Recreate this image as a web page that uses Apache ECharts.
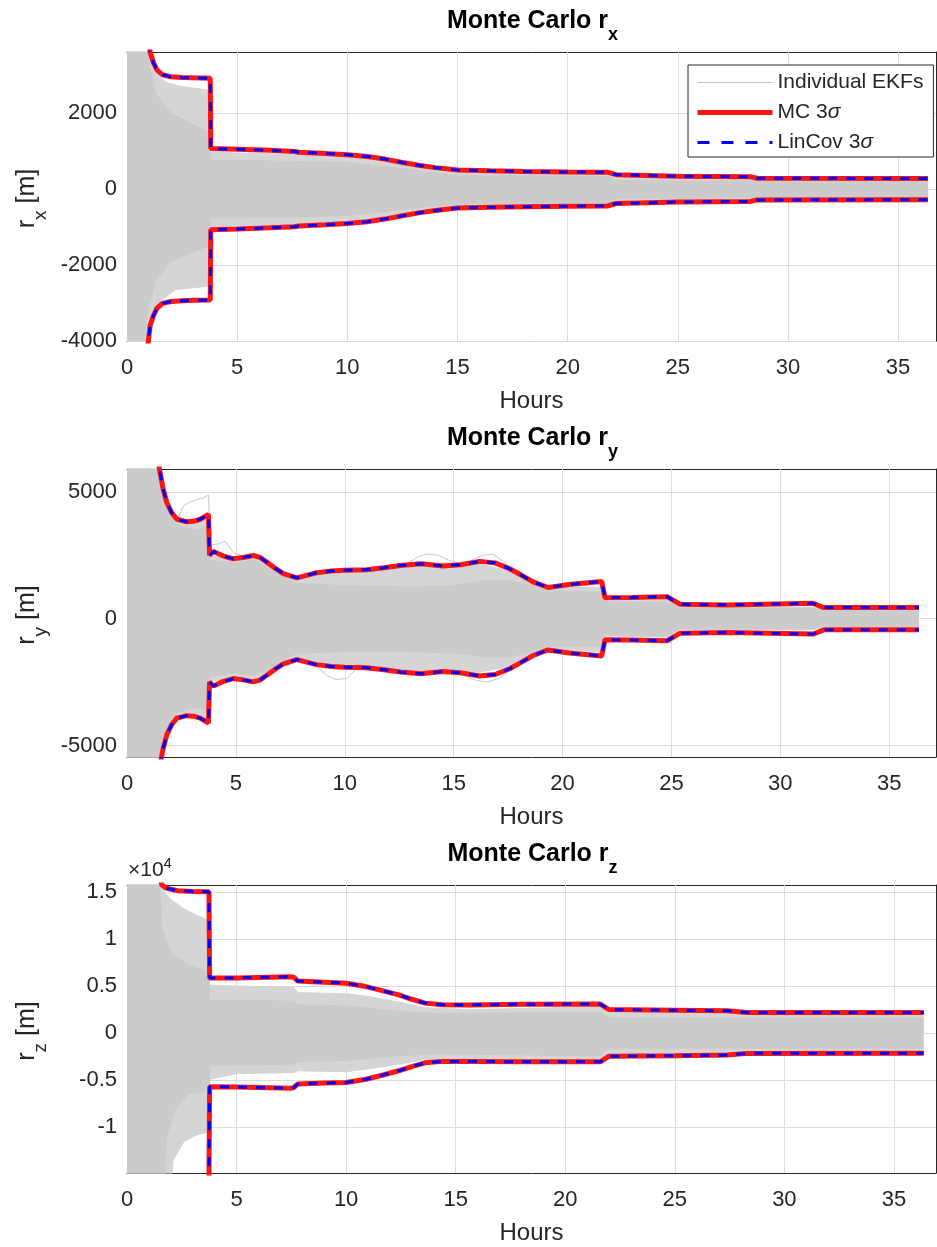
<!DOCTYPE html>
<html><head><meta charset="utf-8">
<script src="https://cdn.jsdelivr.net/npm/echarts@6/dist/echarts.min.js"></script>
<style>html,body{margin:0;padding:0;background:#fff}#c{width:937px;height:1247px}</style>
</head><body><div id="c"></div>
<script>
// ---------------- data (hours, metres) ----------------
const xTicks = [0, 5, 10, 15, 20, 25, 30, 35];
const yTicksX = [-4000, -2000, 0, 2000];
const yTicksY = [-5000, 0, 5000];
const yTicksZ = [-10000, -5000, 0, 5000, 10000, 15000];

// 3-sigma envelopes (MC and LinCov coincide); lower bound is the negative unless given
const sigmaX = [[0.80,4800],[0.95,4100],[1.05,3600],[1.2,3330],[1.36,3140],[1.6,3010],[2.0,2960],[2.5,2940],[3.0,2930],[3.78,2920],[3.8,1070],[5.0,1050],[6.5,1020],[7.6,990],[7.8,970],[9.0,940],[10.0,905],[10.9,860],[11.7,790],[12.5,700],[13.3,620],[14.0,565],[15.0,500],[16.5,480],[18,465],[20,450],[21.8,445],[22.2,380],[25,340],[28.3,325],[28.6,285],[36.36,280]];
const sigmaY = [[1.35,6500],[1.49,5900],[1.65,5150],[1.83,4570],[2.05,4180],[2.29,3920],[2.74,3820],[3.05,3840],[3.36,3920],[3.74,4110],[3.79,2500],[3.97,2650],[4.4,2480],[4.88,2360],[5.4,2420],[5.8,2490],[6.1,2420],[6.42,2230],[6.8,1990],[7.18,1780],[7.8,1610],[8.2,1700],[8.7,1810],[9.4,1880],[10,1910],[11,1930],[11.8,2010],[12.55,2100],[13.5,2170],[14.5,2080],[15.3,2130],[16.2,2260],[16.9,2200],[17.57,1970],[18.1,1720],[18.65,1450],[19.34,1230],[20.3,1350],[21.8,1470],[21.95,830],[23.2,840],[24.8,870],[25.4,570],[27.6,545],[31.5,605],[32,440],[36.37,440]];
const sigmaZ = [[1.45,17000],[1.59,15740],[1.8,15400],[2.3,15140],[3.0,15060],[3.74,15030],[3.77,5850],[5,5870],[7.45,6000],[7.6,5950],[7.8,5530],[9,5420],[10,5310],[10.9,4950],[11.6,4550],[12.4,4070],[13.0,3600],[13.6,3190],[14.4,3010],[15.6,3000],[18,3080],[21.6,3090],[22.0,2500],[25,2430],[27.4,2370],[28.3,2190],[36.36,2180]];
const sigmaZLo = [[1.3,-17500],[2.0,-16000],[3.0,-15600],[3.74,-15500],[3.77,-5700],[5,-5720],[7.45,-5850],[7.6,-5800],[7.8,-5400],[9,-5300],[10,-5250],[10.9,-4900],[11.6,-4500],[12.4,-4000],[13.0,-3550],[13.6,-3150],[14.4,-3000],[15.6,-3000],[18,-3050],[21.6,-3050],[22.0,-2450],[25,-2400],[27.4,-2330],[28.3,-2150],[36.36,-2130]];

// extent of the individual EKF error traces (sparse outer spread, dense core)
const greyOuterXUp = [[0,5000],[0.95,5000],[1.1,3400],[1.4,3000],[1.8,2800],[2.5,2700],[3.75,2600],[3.8,980],[5,950],[7.6,920],[9,960],[10,900],[11,820],[12.5,660],[14,540],[15,470],[18,440],[21.9,430],[22.2,300],[28.5,270],[36.36,250]];
const greyOuterXLo = [[0,-5000],[0.7,-5000],[0.9,-4000],[1.1,-3500],[1.5,-2950],[2.2,-2650],[3.75,-2550],[3.8,-1000],[5,-960],[7.6,-930],[9,-900],[10,-880],[11,-820],[12.5,-660],[14,-540],[15,-470],[18,-440],[21.9,-430],[22.2,-300],[28.5,-270],[36.36,-260]];
const greyCoreXUp = [[0,5000],[0.85,5000],[1.0,3300],[1.3,2500],[2.0,2000],[3.0,1700],[3.75,1500],[3.8,760],[7.6,730],[10,700],[12.5,540],[15,360],[21.9,330],[22.2,220],[36.36,200]];
const greyCoreXLo = [[0,-5000],[0.7,-5000],[0.9,-3300],[1.3,-2400],[2.0,-1900],[3.0,-1650],[3.75,-1500],[3.8,-760],[7.6,-740],[10,-700],[12.5,-540],[15,-380],[21.9,-360],[22.2,-240],[36.36,-230]];

const greyOuterYUp = [[0,7000],[1.45,7000],[1.6,5300],[1.85,4500],[2.3,3950],[2.7,3850],[3.3,3900],[3.74,4050],[3.79,2450],[4.4,2430],[5,2330],[5.8,2450],[6.4,2200],[7.2,1750],[7.8,1580],[8.7,1700],[10,1800],[12.5,2000],[13.5,2100],[14.5,2000],[16.2,2150],[17.5,1900],[18.65,1400],[19.3,1200],[21.8,1250],[22,700],[24.8,720],[25.4,450],[31.5,450],[32,340],[36.37,330]];
const greyOuterYLo = [[0,-7000],[1.5,-7000],[1.65,-5100],[1.85,-4500],[2.3,-3950],[2.7,-3850],[3.3,-3900],[3.74,-4000],[3.79,-2450],[4.4,-2400],[5,-2300],[5.8,-2400],[6.4,-2200],[7.2,-1750],[7.8,-1550],[8.7,-1700],[10,-1850],[12.5,-2000],[13.5,-2100],[14.5,-2050],[16.2,-2100],[17.5,-1900],[18.65,-1400],[19.3,-1200],[21.8,-1300],[22,-680],[24.8,-720],[25.4,-420],[31.5,-430],[32,-320],[36.37,-310]];
const greyCoreYUp = [[0,7000],[1.45,7000],[1.6,5000],[1.85,4300],[2.3,3700],[3.0,3500],[3.74,3600],[3.79,2300],[5,2200],[5.8,2300],[6.4,2050],[7.2,1650],[7.8,1400],[10,1300],[13,1250],[15,1300],[16.5,1500],[17.5,1500],[18.65,1300],[19.3,1100],[21.8,1050],[22,650],[24.8,660],[25.4,420],[31.5,420],[32,320],[36.37,310]];
const greyCoreYLo = [[0,-7000],[1.5,-7000],[1.65,-4800],[1.85,-4300],[2.3,-3700],[3.0,-3500],[3.74,-3600],[3.79,-2300],[5,-2150],[5.8,-2250],[6.4,-2050],[7.2,-1650],[7.8,-1350],[10,-1300],[13,-1300],[15,-1350],[16.5,-1500],[17.5,-1500],[18.65,-1300],[19.3,-1100],[21.8,-1100],[22,-640],[24.8,-680],[25.4,-400],[31.5,-400],[32,-300],[36.37,-300]];
// a few individual traces that stray outside the band in r_y
const strayY1 = [[2.3,3900],[2.6,4450],[2.9,4600],[3.2,4700],[3.5,4750],[3.75,4880],[3.8,2900],[4.2,2950],[4.5,3050],[4.9,2600],[5.4,2450]];
const strayY2 = [[12.8,2150],[13.4,2450],[13.8,2550],[14.3,2500],[14.8,2300],[15.3,2150]];
const strayY3 = [[8.6,-1800],[9.2,-2250],[9.6,-2400],[10.1,-2350],[10.5,-2000]];
const strayY4 = [[15.3,-2150],[15.9,-2400],[16.5,-2500],[17.1,-2350],[17.6,-2000]];
const strayY5 = [[15.8,2300],[16.3,2500],[16.8,2550],[17.3,2250],[17.8,1900]];

const greyOuterZUp = [[0,20000],[1.5,20000],[1.7,15000],[2.0,14200],[2.6,13200],[3.2,12500],[3.74,12000],[3.77,5100],[5,5000],[7.6,4900],[7.8,4300],[10,4200],[11,3900],[12.4,3300],[13.6,2700],[15.6,2500],[21.6,2800],[22.0,2200],[28.3,2300],[36.36,2300]];
const greyOuterZLo = [[0,-20000],[1.9,-20000],[2.1,-13500],[2.6,-11500],[3.2,-10800],[3.74,-10500],[3.77,-4900],[5,-4300],[7.6,-4200],[7.8,-4000],[10,-4100],[11,-3800],[12.4,-3300],[13.6,-2800],[15.6,-2700],[21.6,-2850],[22.0,-2300],[28.3,-2200],[36.36,-2150]];
const greyCoreZUp = [[0,20000],[1.4,20000],[1.6,11000],[2.0,8500],[2.8,7200],[3.74,6500],[3.77,3500],[7.6,3400],[7.8,3000],[10,2900],[12.4,2300],[14,2100],[21.6,2200],[22.0,1600],[36.36,1600]];
const greyCoreZLo = [[0,-20000],[1.6,-20000],[1.8,-11000],[2.2,-8000],[2.8,-6500],[3.74,-6000],[3.77,-3400],[7.6,-3300],[7.8,-3000],[10,-2900],[12.4,-2400],[14,-2200],[21.6,-2400],[22.0,-1600],[36.36,-1600]];

// ---------------- chart ----------------
const FONT = "'Liberation Sans', Arial, Helvetica, sans-serif";
const TXT = '#262626';
const NAME_EKF = 'Individual EKFs', NAME_MC = 'MC 3σ', NAME_LC = 'LinCov 3σ';

const plots = [
  {grid:{left:127, top:52, width:809, height:289}, xMax:36.72, yMin:-4000, yMax:3610, yTicks:yTicksX,
   fmt:v=>String(v), sigma:sigmaX, sigmaLo:null, oU:greyOuterXUp, oL:greyOuterXLo, cU:greyCoreXUp, cL:greyCoreXLo, stray:[], sub:'x'},
  {grid:{left:127, top:469, width:809, height:288}, xMax:37.15, yMin:-5450, yMax:5900, yTicks:yTicksY,
   fmt:v=>String(v), sigma:sigmaY, sigmaLo:null, oU:greyOuterYUp, oL:greyOuterYLo, cU:greyCoreYUp, cL:greyCoreYLo, stray:[strayY1,strayY2,strayY3,strayY4,strayY5], sub:'y'},
  {grid:{left:127, top:885, width:809, height:288}, xMax:36.92, yMin:-14860, yMax:15740, yTicks:yTicksZ,
   fmt:v=>String(v/1e4), sigma:sigmaZ, sigmaLo:sigmaZLo, oU:greyOuterZUp, oL:greyOuterZLo, cU:greyCoreZUp, cL:greyCoreZLo, stray:[], sub:'z'}
];

const grid = [], xAxis = [], yAxis = [], series = [], graphic = [];
const axisLine = {show:true, onZero:false, lineStyle:{color:TXT, width:1}};
plots.forEach((p, i) => {
  grid.push(Object.assign({containLabel:false}, p.grid));
  xAxis[i] = {type:'value', gridIndex:i, min:0, max:p.xMax, axisLine,
    axisTick:{show:true, inside:true, length:7, customValues:xTicks, lineStyle:{color:TXT}},
    axisLabel:{customValues:xTicks, fontSize:22, color:TXT, fontFamily:FONT, margin:16},
    splitLine:{show:false},
    name:'Hours', nameLocation:'middle', nameGap:48, nameTextStyle:{fontSize:24, color:TXT, fontFamily:FONT}};
  xAxis[i+3] = {type:'value', gridIndex:i, position:'top', min:0, max:p.xMax, axisLine,
    axisTick:{show:true, inside:true, length:7, customValues:xTicks, lineStyle:{color:TXT}},
    axisLabel:{show:false}, splitLine:{show:false}};
  yAxis[i] = {type:'value', gridIndex:i, min:p.yMin, max:p.yMax, axisLine,
    axisTick:{show:true, inside:true, length:7, customValues:p.yTicks, lineStyle:{color:TXT}},
    axisLabel:{customValues:p.yTicks, formatter:p.fmt, fontSize:22, color:TXT, fontFamily:FONT, margin:10},
    splitLine:{show:false}};
  yAxis[i+3] = {type:'value', gridIndex:i, position:'right', min:p.yMin, max:p.yMax, axisLine,
    axisTick:{show:true, inside:true, length:7, customValues:p.yTicks, lineStyle:{color:TXT}},
    axisLabel:{show:false}, splitLine:{show:false}};

  const base = {type:'line', xAxisIndex:i, yAxisIndex:i, symbol:'none', showSymbol:false, silent:true, animation:false};
  // grid lines
  series.push(Object.assign({}, base, {name:'_grid'+i, data:[], z:1,
    markLine:{silent:true, animation:false, z:1, symbol:['none','none'], label:{show:false},
      lineStyle:{color:'#dcdcdc', width:1, type:'solid'},
      emphasis:{disabled:true},
      data:[...xTicks.filter(v=>v>0).map(v=>({xAxis:v})), ...p.yTicks.map(v=>({yAxis:v}))]}}));
  const band = (data, color, z) => Object.assign({}, base, {name:NAME_EKF, data, z,
    lineStyle:{width:1, color}, itemStyle:{color}, areaStyle:{color, opacity:1}});
  series.push(band(p.oU, '#d5d5d5', 2), band(p.oL, '#d5d5d5', 2), band(p.cU, '#cbcbcb', 3), band(p.cL, '#cbcbcb', 3));
  p.stray.forEach(d => series.push(Object.assign({}, base, {name:NAME_EKF, data:d, z:3,
    lineStyle:{width:1, color:'#c8c8c8'}, itemStyle:{color:'#c8c8c8'}})));
  const lower = p.sigmaLo || p.sigma.map(([h, v]) => [h, -v]);
  const mc = {lineStyle:{width:5, color:'#ff1414'}, itemStyle:{color:'#ff1414'}, z:5};
  const lc = {lineStyle:{width:3, color:'#0000ff', type:[9,9]}, itemStyle:{color:'#0000ff'}, z:6};
  series.push(Object.assign({}, base, mc, {name:NAME_MC, data:p.sigma}));
  series.push(Object.assign({}, base, mc, {name:NAME_MC, data:lower}));
  series.push(Object.assign({}, base, lc, {name:NAME_LC, data:p.sigma}));
  series.push(Object.assign({}, base, lc, {name:NAME_LC, data:lower}));

  // title
  const cx = p.grid.left + p.grid.width / 2;
  graphic.push({type:'text', x:cx + 1, y:p.grid.top - 30.5, silent:true, style:{
    text:'{t|Monte Carlo r}{s|' + p.sub + '}', align:'center', verticalAlign:'middle',
    rich:{t:{fontSize:25, fontWeight:'bold', fontFamily:FONT, fill:'#000'},
          s:{fontSize:18, fontWeight:'bold', fontFamily:FONT, fill:'#000', padding:[27,0,0,0]}}}});
  // y-axis label
  graphic.push({type:'text', x:27, y:p.grid.top + p.grid.height / 2 + 2, rotation:Math.PI/2, silent:true, style:{
    text:'{r|r}{s|' + p.sub + '}{r| [m]}', align:'center', verticalAlign:'middle',
    rich:{r:{fontSize:25, fontFamily:FONT, fill:TXT},
          s:{fontSize:19, fontFamily:FONT, fill:TXT, padding:[27,0,0,0]}}}});
});
graphic.push({type:'text', x:128, y:870, silent:true, style:{
  text:'{a|×10}{b|4}', align:'left', verticalAlign:'middle',
  rich:{a:{fontSize:21, fontFamily:FONT, fill:TXT}, b:{fontSize:15, fontFamily:FONT, fill:TXT, padding:[0,0,12,0]}}}});

const option = {
  backgroundColor:'#fff',
  animation:false,
  grid, xAxis, yAxis, series, graphic,
  legend:{
    left:688, top:65, orient:'vertical', itemWidth:75, itemHeight:14, itemGap:9,
    padding:[7,10,4,7], borderColor:TXT, borderWidth:1, backgroundColor:'#fff',
    selectedMode:false, z:10,
    textStyle:{fontSize:21, color:TXT, fontFamily:FONT, lineHeight:21, rich:{i:{fontSize:21, fontStyle:'italic', fontFamily:FONT, color:TXT}}},
    formatter:n => n.replace('3σ', '3{i|σ}'),
    data:[
      {name:NAME_EKF, lineStyle:{color:'#c4c4c4', width:1}, itemStyle:{opacity:0}},
      {name:NAME_MC, lineStyle:{color:'#ff1414', width:5}, itemStyle:{opacity:0}},
      {name:NAME_LC, lineStyle:{color:'#0000ff', width:3, type:[12,12]}, itemStyle:{opacity:0}}
    ]
  }
};
const chart = echarts.init(document.getElementById('c'));
chart.setOption(option);
</script>
</body></html>
